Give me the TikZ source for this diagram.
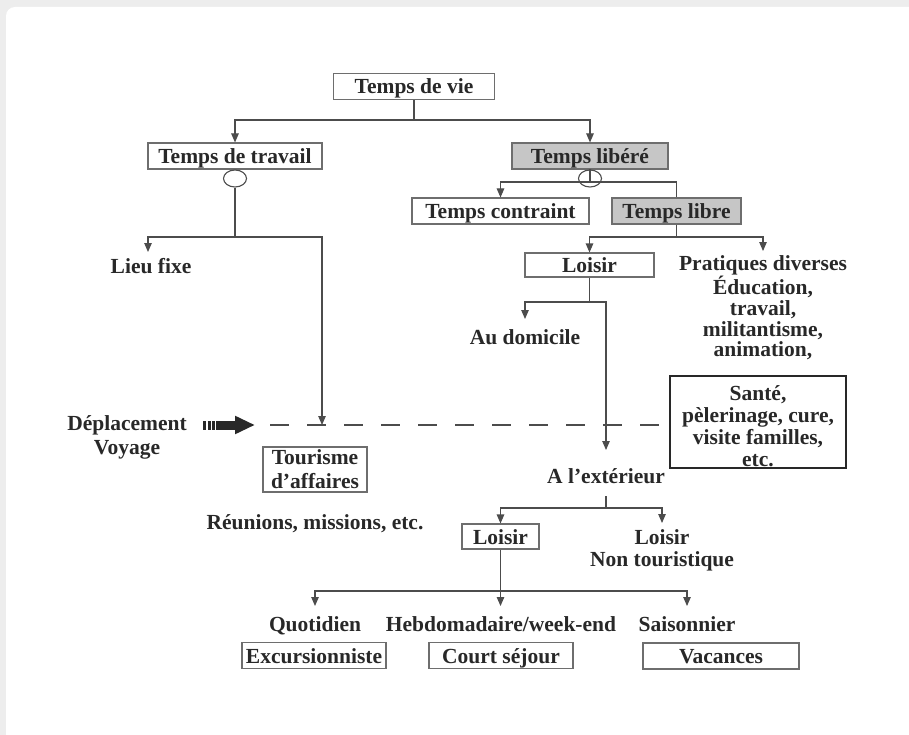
\documentclass[tikz,border=0pt]{standalone}
\usepackage{fontspec}
\setmainfont{Liberation Serif}
\usetikzlibrary{arrows.meta,shapes.geometric}
\definecolor{txt}{HTML}{282828}
\definecolor{linec}{HTML}{4C4C4C}
\definecolor{boxc}{HTML}{6E6E6E}
\definecolor{greyc}{HTML}{C6C6C6}
\definecolor{bgc}{HTML}{EDEDED}
\begin{document}
\begin{tikzpicture}[x=1pt,y=-1pt,
  lbl/.style={font=\fontsize{21.5}{22}\selectfont\bfseries, text=txt, inner sep=0pt},
  one/.style={text height=17pt, text depth=2pt},
  box/.style={lbl, one, draw=boxc, line width=1.1pt, minimum height=26pt},
  greybox/.style={box, fill=greyc},
  conn/.style={draw=linec, line width=1.1pt},
  arr/.style={conn, -{Triangle[width=7.5pt,length=9pt]}},
  ring/.style={draw=linec, line width=1.1pt, ellipse, minimum width=23pt, minimum height=17pt, inner sep=0pt}
]
\useasboundingbox (0,0) rectangle (909,735);
\clip (0,0) rectangle (909,735);
\fill[bgc] (0,0) rectangle (909,735);
\fill[white, rounded corners=9pt] (6,7) rectangle (930,760);

% nodes
\node[box, minimum width=161pt] (vie) at (414,86.5) {Temps de vie};
\node[box, minimum width=174pt] (trav) at (235,156) {Temps de travail};
\node[greybox, minimum width=156pt] (lib) at (590,156) {Temps libéré};
\node[ring] (c1) at (235,178.5) {};
\node[ring] (c2) at (590,178.5) {};
\node[box, minimum width=177pt] (contr) at (500.5,211) {Temps contraint};
\node[greybox, minimum width=129pt] (libre) at (676.5,211) {Temps libre};
\node[box, minimum width=129pt, minimum height=24pt] (loisA) at (589.5,265) {Loisir};
\node[lbl, one] (lieu) at (151,266) {Lieu fixe};
\node[lbl, align=center, font=\fontsize{21.5}{20.6}\selectfont\bfseries] (prat) at (763,308) {Pratiques diverses\\Éducation,\\travail,\\militantisme,\\animation,};
\node[lbl, one] (dom) at (525,337) {Au domicile};
\node[lbl, align=center, draw=txt, line width=1.5pt, minimum width=176pt, minimum height=92pt] (sante) at (758,422) {\rule{0pt}{23pt}Santé,\\pèlerinage, cure,\\visite familles,\\etc.};
\node[lbl, align=center, font=\fontsize{21.5}{24}\selectfont\bfseries] (depl) at (127,437) {Déplacement\\Voyage};
\node[lbl, align=center, font=\fontsize{21.5}{24}\selectfont\bfseries, draw=boxc, line width=1.1pt, minimum width=104pt, minimum height=45pt] (tour) at (315,469.5) {Tourisme\\d’affaires};
\node[lbl, one] (reu) at (315,522) {Réunions, missions, etc.};
\node[lbl, one] (ext) at (606,476) {A l’extérieur};
\node[box, minimum width=77pt, minimum height=25pt] (loisB) at (500.5,536.5) {Loisir};
\node[lbl, align=center] (nt) at (662,550) {Loisir\\Non touristique};
\node[lbl, one] (quot) at (315,624) {Quotidien};
\node[lbl, one] (hebdo) at (501,624) {Hebdomadaire/week-end};
\node[lbl, one] (sais) at (687,624) {Saisonnier};
\node[box, minimum width=144pt] (exc) at (314,655.5) {Excursionniste};
\node[box, minimum width=144pt] (court) at (501,655.5) {Court séjour};
\node[box, minimum width=156pt] (vac) at (721,656) {Vacances};

% junctions and free ends
\coordinate (j1) at (414,120);
\coordinate (j2) at (235,237);
\coordinate (lieuIn) at (148,252);
\coordinate (dashHit) at (322,425);
\coordinate (j3) at (590,182);
\coordinate (j4) at (676.5,237);
\coordinate (pratIn) at (763,251);
\coordinate (j5) at (589.5,302);
\coordinate (domIn) at (525,319);
\coordinate (extIn) at (606,450);
\coordinate (extOut) at (606,496);
\coordinate (j6) at (606,508);
\coordinate (ntIn) at (662,523);
\coordinate (j7) at (500.5,591);
\coordinate (quotIn) at (315,606);
\coordinate (hebdoIn) at (500.5,606);
\coordinate (saisIn) at (687,606);
\coordinate (dashStart) at (270,425);
\coordinate (bigA) at (203,425);
\coordinate (bigB) at (216,425);
\coordinate (bigC) at (255,425);

% connectors
\draw[conn] (vie.south) -- (j1);
\draw[arr] (j1) -| (trav.north);
\draw[arr] (j1) -| (lib.north);
\draw[conn] (c1.south) -- (j2);
\draw[arr] (j2) -| (lieuIn);
\draw[arr] (j2) -| (dashHit);
\draw[conn] (c2.north) -- (j3);
\draw[arr] (j3) -| (contr.north);
\draw[conn] (j3) -| (libre.north);
\draw[conn] (libre.south) -- (j4);
\draw[arr] (j4) -| (loisA.north);
\draw[arr] (j4) -| (pratIn);
\draw[conn] (loisA.south) -- (j5);
\draw[arr] (j5) -| (domIn);
\draw[arr] (j5) -| (extIn);
\draw[conn] (extOut) -- (j6);
\draw[arr] (j6) -| (loisB.north);
\draw[arr] (j6) -| (ntIn);
\draw[conn] (loisB.south) -- (j7);
\draw[arr] (j7) -| (quotIn);
\draw[arr] (j7) -- (hebdoIn);
\draw[arr] (j7) -| (saisIn);
\draw[conn, dash pattern=on 19pt off 18pt] (dashStart) -- (dashStart -| sante.west);
\draw[txt, line width=9pt, dash pattern=on 3pt off 1.5pt] (bigA) -- (bigB);
\draw[txt, line width=9pt, -{Triangle[width=17pt,length=20pt]}] (bigB) -- (bigC);
\end{tikzpicture}
\end{document}
